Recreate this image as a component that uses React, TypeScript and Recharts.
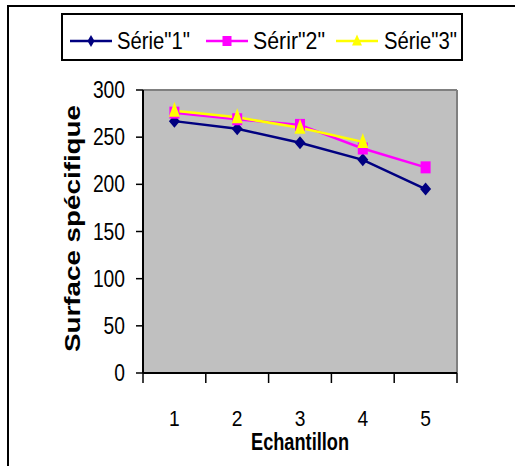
import React from 'react';
import { LineChart, Line, XAxis, YAxis, CartesianGrid, Legend, ReferenceLine, Label } from 'recharts';

const categories = [1, 2, 3, 4, 5];
const serie1 = [267, 259, 244, 226, 195];
const serie2 = [276, 269, 263, 238, 218];
const serie3: (number | null)[] = [278, 271, 260, 245, null];
const yTicks = [0, 50, 100, 150, 200, 250, 300];
const xBoundaryTicks = [0.5, 1.5, 2.5, 3.5, 4.5, 5.5];
const seriesNames = ['Série"1"', 'Sérir"2"', 'Série"3"'];
const seriesColors = ['#000080', '#FF00FF', '#FFFF00'];
const xTitle = 'Echantillon';
const yTitle = 'Surface spécifique';

const data = categories.map((c, i) => ({ x: c, s1: serie1[i], s2: serie2[i], s3: serie3[i] }));

const FONT = '"Liberation Sans", Arial, sans-serif';

const marker = (kind: number, cx: number, cy: number, color: string, w: number, h: number, key?: any) => {
  if (kind === 0) {
    return <polygon key={key} points={`${cx},${cy - h / 2} ${cx + w / 2},${cy} ${cx},${cy + h / 2} ${cx - w / 2},${cy}`} fill={color} />;
  }
  if (kind === 1) {
    return <rect key={key} x={cx - w / 2} y={cy - h / 2} width={w} height={h} fill={color} />;
  }
  return <polygon key={key} points={`${cx},${cy - h * 0.6} ${cx + w / 2},${cy + h * 0.4} ${cx - w / 2},${cy + h * 0.4}`} fill={color} />;
};

const makeDot = (kind: number, color: string, w: number, h: number) => (props: any) => {
  const { cx, cy, index } = props;
  if (cx == null || cy == null || props.value == null) return <g key={`d${kind}-${index}`} />;
  return marker(kind, cx, cy, color, w, h, `d${kind}-${index}`);
};

const LegendBox = () => {
  const lineStarts = [9, 145, 275];
  const textStarts = [56, 192, 323];
  const textLens = [73, 72, 73];
  const sizes = [[7, 12], [9, 10], [10, 11]];
  return (
    <svg width={440} height={48} style={{ display: 'block', overflow: 'visible' }}>
      <rect x={1} y={1} width={400} height={46} fill="#fff" stroke="#000" strokeWidth={2} />
      {seriesNames.map((name, i) => (
        <g key={i}>
          <line x1={lineStarts[i]} x2={lineStarts[i] + 42} y1={28} y2={28} stroke={seriesColors[i]} strokeWidth={2.5} />
          {marker(i, lineStarts[i] + 21, 28, seriesColors[i], sizes[i][0], sizes[i][1])}
          <text x={textStarts[i]} y={28} dominantBaseline="central" fontFamily={FONT} fontSize={23}
            textLength={textLens[i]} lengthAdjust="spacingAndGlyphs" fill="#000">{name}</text>
        </g>
      ))}
    </svg>
  );
};

const YTick = (props: any) => {
  const { x, y, payload } = props;
  const s = String(payload.value);
  return (
    <text x={x} y={y} textAnchor="end" dominantBaseline="central" fontFamily={FONT} fontSize={23}
      textLength={s.length * 10.7} lengthAdjust="spacingAndGlyphs" fill="#000">{s}</text>
  );
};

const XTick = (props: any) => {
  const { x, y, payload } = props;
  const s = String(payload.value);
  return (
    <text x={x} y={y} textAnchor="middle" dominantBaseline="central" fontFamily={FONT} fontSize={22}
      textLength={s.length * 10.7} lengthAdjust="spacingAndGlyphs" fill="#000">{s}</text>
  );
};

const EmptyTick = () => <g />;

export default function App() {
  return (
    <div style={{ position: 'absolute', left: 0, top: 0, width: 515, height: 466, overflow: 'hidden', background: '#fff' }}>
      <div style={{ position: 'absolute', left: 7, top: 5, width: 530, height: 480, borderTop: '2px solid #000', borderLeft: '2px solid #000' }} />
      <LineChart width={515} height={466} data={data} margin={{ top: 42, right: 58, bottom: 13, left: 10 }}>
        <CartesianGrid fill="#C0C0C0" horizontal={false} vertical={false} />
        <Legend verticalAlign="top" align="left" content={<LegendBox />}
          wrapperStyle={{ position: 'absolute', top: 13, left: 61, width: 440, height: 48 }} />
        <XAxis xAxisId={0} dataKey="x" type="number" domain={[0.5, 5.5]} ticks={xBoundaryTicks} interval={0}
          height={20} tickSize={10} tick={<EmptyTick />}
          axisLine={{ stroke: '#000', strokeWidth: 2 }} tickLine={{ stroke: '#000', strokeWidth: 1.5 }} />
        <XAxis xAxisId="lab" dataKey="x" type="number" domain={[0.5, 5.5]} ticks={categories} interval={0}
          height={60} tickSize={0} tickMargin={25} tickLine={false} axisLine={false} tick={<XTick />}>
          <Label content={(p: any) => {
            const vb = p.viewBox || {};
            return (
              <text x={vb.x + vb.width / 2} y={vb.y + 49} textAnchor="middle" dominantBaseline="central"
                fontFamily={FONT} fontWeight="bold" fontSize={23} textLength={98} lengthAdjust="spacingAndGlyphs" fill="#000">{xTitle}</text>
            );
          }} />
        </XAxis>
        <YAxis domain={[0, 300]} ticks={yTicks} interval={0} width={133} tickSize={7} tickMargin={11}
          axisLine={{ stroke: '#000', strokeWidth: 2 }} tickLine={{ stroke: '#000', strokeWidth: 1.5 }} tick={<YTick />}>
          <Label content={(p: any) => {
            const vb = p.viewBox || {};
            const cx = vb.x + 62;
            const cy = vb.y + vb.height / 2 - 3;
            return (
              <text x={cx} y={cy} transform={`rotate(-90 ${cx} ${cy})`} textAnchor="middle" dominantBaseline="central"
                fontFamily={FONT} fontWeight="bold" fontSize={22} textLength={247} lengthAdjust="spacingAndGlyphs" fill="#000">{yTitle}</text>
            );
          }} />
        </YAxis>
        <ReferenceLine y={300} stroke="#808080" strokeWidth={2} ifOverflow="visible" />
        <ReferenceLine x={5.5} stroke="#808080" strokeWidth={2} ifOverflow="visible" />
        <Line dataKey="s1" name={seriesNames[0]} stroke={seriesColors[0]} strokeWidth={2.5}
          dot={makeDot(0, seriesColors[0], 11, 13)} activeDot={false} isAnimationActive={false} />
        <Line dataKey="s2" name={seriesNames[1]} stroke={seriesColors[1]} strokeWidth={2.5}
          dot={makeDot(1, seriesColors[1], 10, 12)} activeDot={false} isAnimationActive={false} />
        <Line dataKey="s3" name={seriesNames[2]} stroke={seriesColors[2]} strokeWidth={2.5}
          dot={makeDot(2, seriesColors[2], 11, 15)} activeDot={false} isAnimationActive={false} />
      </LineChart>
    </div>
  );
}
